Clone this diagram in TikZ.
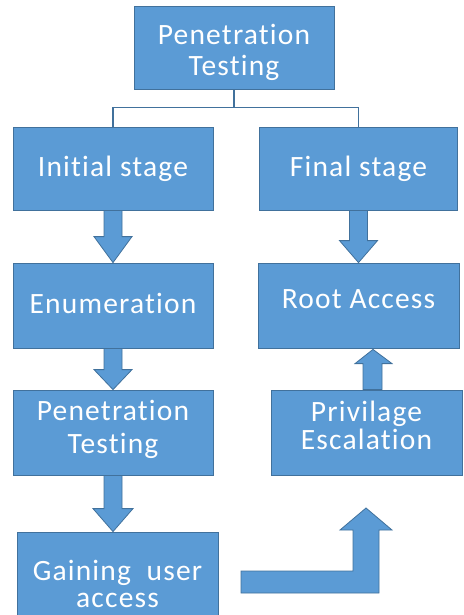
\documentclass[tikz,border=0pt]{standalone}
\usepackage{fontspec}
\setmainfont[Ligatures=NoCommon,LetterSpace=4]{Carlito}
\usetikzlibrary{calc}
\definecolor{boxfill}{HTML}{5B9BD5}
\definecolor{boxline}{HTML}{41719C}
\begin{document}
\begin{tikzpicture}[x=1pt,y=-1pt,
  stagebox/.style={rectangle,fill=boxfill,draw=boxline,line width=0.8pt,inner sep=0pt},
  boxtext/.style={text=white,font=\fontsize{29.5}{31}\selectfont,align=center,inner sep=0pt},
  blockarrow/.style={fill=boxfill,draw=boxline,line width=0.8pt,line join=miter},
  link/.style={draw=boxline,line width=1.3pt}]
\useasboundingbox (0,0) rectangle (463,615);
\begin{scope}
\clip (0,0) rectangle (463,615);
\node[stagebox,minimum width=200pt,minimum height=83pt] (top) at (234,47.5) {};
\node[stagebox,minimum width=200pt,minimum height=83pt] (init) at (113,168.5) {};
\node[stagebox,minimum width=198pt,minimum height=83pt] (final) at (358.5,168.5) {};
\node[stagebox,minimum width=200pt,minimum height=85pt] (enum) at (113,305.5) {};
\node[stagebox,minimum width=201pt,minimum height=85pt] (root) at (358.5,305.5) {};
\node[stagebox,minimum width=200pt,minimum height=85pt] (pen) at (113,432.5) {};
\node[stagebox,minimum width=191pt,minimum height=85pt] (priv) at (366.5,432.5) {};
\node[stagebox,minimum width=201pt,minimum height=96pt] (gain) at (117.5,580) {};

\node[boxtext] (toptext) at (234,52.3) {Penetration\\Testing};
\node[boxtext] (inittext) at (113,168.8) {Initial stage};
\node[boxtext] (finaltext) at (358.5,168.8) {Final stage};
\node[boxtext] (enumtext) at (113,303.5) {Enumeration};
\node[boxtext] (roottext) at (358.5,299.5) {Root Access};
\node[boxtext,font=\fontsize{29.5}{33}\selectfont] (pentext) at (113,429.3) {Penetration\\Testing};
\node[boxtext,font=\fontsize{29.5}{28}\selectfont] (privtext) at (366.5,425.7) {Privilage\\Escalation};
\node[boxtext,font=\fontsize{29.5}{27}\selectfont] (gaintext) at (117.5,584) {Gaining~~user\\access};

\draw[link] (top.south) -- ++(0,18) -| (init.north);
\draw[link] (top.south) -- ++(0,18) -| (final.north);

% down arrows
\draw[blockarrow] ($(init.south)+(-9,0)$) -- ($(init.south |- enum.north)+(-9,-26)$) -- ($(init.south |- enum.north)+(-19,-26)$) -- (init.south |- enum.north) -- ($(init.south |- enum.north)+(19,-26)$) -- ($(init.south |- enum.north)+(9,-26)$) -- ($(init.south)+(9,0)$) -- cycle;
\draw[blockarrow] ($(enum.south)+(-9,0)$) -- ($(enum.south |- pen.north)+(-9,-20)$) -- ($(enum.south |- pen.north)+(-19,-20)$) -- (enum.south |- pen.north) -- ($(enum.south |- pen.north)+(19,-20)$) -- ($(enum.south |- pen.north)+(9,-20)$) -- ($(enum.south)+(9,0)$) -- cycle;
\draw[blockarrow] ($(pen.south)+(-9,0)$) -- ($(pen.south |- gain.north)+(-9,-23)$) -- ($(pen.south |- gain.north)+(-20,-23)$) -- (pen.south |- gain.north) -- ($(pen.south |- gain.north)+(20,-23)$) -- ($(pen.south |- gain.north)+(9,-23)$) -- ($(pen.south)+(9,0)$) -- cycle;
\draw[blockarrow] ($(final.south)+(-9,0)$) -- ($(final.south |- root.north)+(-9,-22)$) -- ($(final.south |- root.north)+(-19,-22)$) -- (final.south |- root.north) -- ($(final.south |- root.north)+(19,-22)$) -- ($(final.south |- root.north)+(9,-22)$) -- ($(final.south)+(9,0)$) -- cycle;
% up arrow
\draw[blockarrow] ($(priv.north)+(-3.5,0)$) -- ($(priv.north)+(-3.5,-26)$) -- ($(priv.north)+(-11.5,-26)$) -- ($(priv.north |- root.south)+(6.5,1)$) -- ($(priv.north)+(25.5,-26)$) -- ($(priv.north)+(15.5,-26)$) -- ($(priv.north)+(15.5,0)$) -- cycle;
% bent arrow
\draw[blockarrow] (241,571) -- (353,571) -- (353,530) -- (340,530) -- (366,508) -- (392,530) -- (379,530) -- (379,593) -- (241,593) -- cycle;
\end{scope}
\end{tikzpicture}
\end{document}
